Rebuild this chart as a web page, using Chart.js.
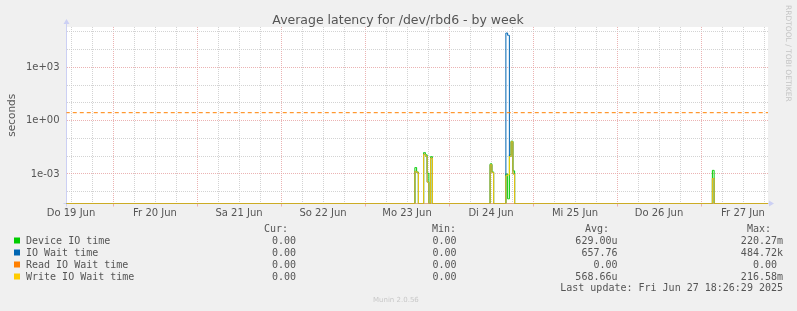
<!DOCTYPE html>
<html>
<head>
<meta charset="utf-8">
<script src="https://cdn.jsdelivr.net/npm/chart.js@4/dist/chart.umd.min.js"></script>
<style>
  html, body { margin: 0; padding: 0; background: #f0f0f0; overflow: hidden; }
  canvas { display: block; }
</style>
</head>
<body>
<canvas id="chart" width="797" height="311"></canvas>
<script>
const titleText = 'Average latency for /dev/rbd6 - by week';
const dayLabels = ['Do 19 Jun', 'Fr 20 Jun', 'Sa 21 Jun', 'So 22 Jun', 'Mo 23 Jun', 'Di 24 Jun', 'Mi 25 Jun', 'Do 26 Jun', 'Fr 27 Jun'];
const yTickLabels = { '-3': '1e-03', '0': '1e+00', '3': '1e+03' };

// hours since Do 19 Jun 00:00, 30 min samples around the spikes
const hours = [10.5, 110.0, 110.5, 111.0, 111.5, 112.5, 113.0, 113.5, 114.0, 114.5, 115.0, 115.5,
  131.5, 132.0, 132.5, 133.0, 136.0, 136.5, 137.0, 137.5, 138.0, 138.5, 139.0, 195.0, 195.5, 196.0, 211.5];
const deviceIO = [0, 0, 2.3e-3, 1.3e-3, 0, 0, 0.016, 0.012, 1.1e-3, 0, 0.0095, 0,
  0, 3.7e-3, 1.3e-3, 0, 0, 1.0e-3, 4e-5, 0.012, 0.07, 1.5e-3, 0, 0, 1.6e-3, 0, 0];
const ioWait = [0, 0, 1.4e-3, 1.2e-3, 0, 0, 0.013, 0.010, 3.5e-4, 0, 0.008, 0,
  0, 3.3e-3, 1.2e-3, 0, 0, 8.5e4, 6.3e4, 0.0096, 0.065, 1.0e-3, 0, 0, 5.6e-4, 0, 0];
const readWait = [0, 0, 0, 0, 0, 0, 0, 0, 0, 0, 0, 0,
  0, 0, 0, 0, 0, 0, 0, 0, 0, 0, 0, 0, 0, 0, 0];
const writeWait = [0, 0, 1.4e-3, 1.2e-3, 0, 0, 0.013, 0.010, 3.5e-4, 0, 0.008, 0,
  0, 3.3e-3, 1.2e-3, 0, 0, 8e-4, 9e-4, 0.0096, 0.065, 1.0e-3, 0, 0, 5.6e-4, 0, 0];
const warnLevel = 2.8;

const seriesNames = ['Device IO time', 'IO Wait time', 'Read IO Wait time', 'Write IO Wait time'];
const seriesColors = ['#00cc00', '#0066b3', '#ff8000', '#ffcc00'];
const curVals = ['0.00', '0.00', '0.00', '0.00'];
const minVals = ['0.00', '0.00', '0.00', '0.00'];
const avgVals = ['629.00u', '657.76', '0.00', '568.66u'];
const maxVals = ['220.27m', '484.72k', '0.00 ', '216.58m'];
const lastUpdate = 'Last update: Fri Jun 27 18:26:29 2025';

const yMin = 2.19e-5;
const yMax = 1.85e5;
const minorGrid = 'rgba(200,200,200,0.8)';
const majorGrid = 'rgba(230,160,160,0.8)';
const axisColor = '#ccd0f4';

// zero has no place on a log axis: rrdtool draws it on the bottom edge
const toPoints = vals => hours.map((h, i) => ({ x: h, y: vals[i] > 0 ? vals[i] : yMin }));

const series = [deviceIO, ioWait, readWait, writeWait].map((vals, i) => ({
  label: seriesNames[i],
  data: toPoints(vals),
  borderColor: seriesColors[i],
  borderWidth: 1,
  pointRadius: 0,
  stepped: 'middle',
  fill: false,
  order: 3 - i
}));
series.push({
  label: 'warning',
  data: [{ x: hours[0], y: warnLevel }, { x: hours[hours.length - 1], y: warnLevel }],
  borderColor: '#ff8000',
  borderWidth: 1,
  borderDash: [4, 3],
  pointRadius: 0,
  fill: false,
  order: -1
});

const frame = {
  id: 'frame',
  beforeDraw(chart) {
    const { ctx, chartArea: a } = chart;
    ctx.save();
    ctx.fillStyle = '#f0f0f0';
    ctx.fillRect(0, 0, chart.width, chart.height);
    ctx.fillStyle = '#ffffff';
    ctx.fillRect(a.left, a.top, a.right - a.left, a.bottom - a.top);
    ctx.restore();
  },
  beforeDatasetsDraw(chart) {
    const { ctx, chartArea: a } = chart;
    ctx.save();
    ctx.strokeStyle = axisColor;
    ctx.fillStyle = axisColor;
    ctx.lineWidth = 1;
    ctx.beginPath();
    ctx.moveTo(a.left, a.bottom + 3);
    ctx.lineTo(a.left, a.top - 4);
    ctx.moveTo(a.left - 3, a.bottom);
    ctx.lineTo(a.right + 2, a.bottom);
    ctx.stroke();
    ctx.beginPath();
    ctx.moveTo(a.left, a.top - 8);
    ctx.lineTo(a.left - 3, a.top - 3);
    ctx.lineTo(a.left + 3, a.top - 3);
    ctx.closePath();
    ctx.fill();
    ctx.beginPath();
    ctx.moveTo(a.right + 6, a.bottom);
    ctx.lineTo(a.right + 1, a.bottom - 3);
    ctx.lineTo(a.right + 1, a.bottom + 3);
    ctx.closePath();
    ctx.fill();
    ctx.restore();
  },
  afterDraw(chart) {
    const ctx = chart.ctx;
    ctx.save();
    ctx.fillStyle = '#555555';
    ctx.font = '12.5px "DejaVu Sans"';
    ctx.textAlign = 'center';
    ctx.textBaseline = 'alphabetic';
    ctx.fillText(titleText, 398, 24);

    ctx.save();
    ctx.fillStyle = '#c4c4c4';
    ctx.font = '7.5px "DejaVu Sans"';
    ctx.textAlign = 'left';
    ctx.translate(786, 5);
    ctx.rotate(Math.PI / 2);
    ctx.fillText('RRDTOOL / TOBI OETIKER', 0, 0);
    ctx.restore();

    ctx.font = '10px "DejaVu Sans Mono"';
    ctx.fillStyle = '#555555';
    ctx.textAlign = 'right';
    ctx.fillText('Cur:', 288, 231.5);
    ctx.fillText('Min:', 456, 231.5);
    ctx.fillText('Avg:', 609, 231.5);
    ctx.fillText('Max:', 771, 231.5);
    seriesNames.forEach((name, i) => {
      const base = 243.5 + i * 12;
      ctx.fillStyle = seriesColors[i];
      ctx.fillRect(14, base - 6, 6, 6);
      ctx.fillStyle = '#555555';
      ctx.textAlign = 'left';
      ctx.fillText(name, 26, base);
      ctx.textAlign = 'right';
      ctx.fillText(curVals[i], 296, base);
      ctx.fillText(minVals[i], 456.5, base);
      ctx.fillText(avgVals[i], 617.5, base);
      ctx.fillText(maxVals[i], 783, base);
    });
    ctx.fillText(lastUpdate, 783, 291);

    ctx.fillStyle = '#c8c8c8';
    ctx.font = '7px "DejaVu Sans"';
    ctx.textAlign = 'left';
    ctx.fillText('Munin 2.0.56', 373, 302);
    ctx.restore();
  }
};

new Chart(document.getElementById('chart'), {
  type: 'line',
  data: { datasets: series },
  plugins: [frame],
  options: {
    responsive: false,
    animation: false,
    devicePixelRatio: 1,
    layout: { padding: { top: 27, right: 29, bottom: 0, left: 0 } },
    plugins: { legend: { display: false }, title: { display: false }, tooltip: { enabled: false } },
    scales: {
      x: {
        type: 'linear',
        min: (66.5 - 29) / 3.5,
        max: (768 - 29) / 3.5,
        afterFit: s => { s.height = 107.5; },
        afterBuildTicks: s => {
          const t = [];
          for (let h = 12; h <= s.max; h += 6) t.push({ value: h });
          s.ticks = t;
        },
        border: { display: false, dash: [1, 1] },
        grid: {
          color: c => (c.tick && c.tick.value % 24 === 0) ? majorGrid : minorGrid,
          tickColor: c => (c.tick && c.tick.value % 24 === 0) ? majorGrid : 'rgba(0,0,0,0)',
          tickLength: 3,
          lineWidth: 1
        },
        ticks: {
          autoSkip: false,
          maxRotation: 0,
          minRotation: 0,
          padding: 1,
          color: '#555555',
          font: { family: 'DejaVu Sans', size: 10 },
          callback: v => (v % 24 === 12) ? dayLabels[(v - 12) / 24] : ''
        }
      },
      y: {
        type: 'logarithmic',
        min: yMin,
        max: yMax,
        afterFit: s => { s.width = 66.5; },
        afterBuildTicks: s => {
          const t = [];
          for (let e = -4; e <= 5; e++) t.push({ value: Math.pow(10, e) });
          s.ticks = t;
        },
        border: { display: false, dash: [1, 1] },
        grid: {
          color: c => (c.tick && Math.round(Math.log10(c.tick.value)) % 3 === 0) ? majorGrid : minorGrid,
          drawTicks: false,
          lineWidth: 1
        },
        ticks: {
          autoSkip: false,
          padding: 7,
          color: '#555555',
          font: { family: 'DejaVu Sans', size: 10 },
          callback: v => yTickLabels[String(Math.round(Math.log10(v)))] || ''
        },
        title: {
          display: true,
          text: 'seconds',
          color: '#555555',
          font: { family: 'DejaVu Sans', size: 10.5 },
          padding: { top: 6, bottom: 0 }
        }
      }
    }
  }
});
</script>
</body>
</html>
